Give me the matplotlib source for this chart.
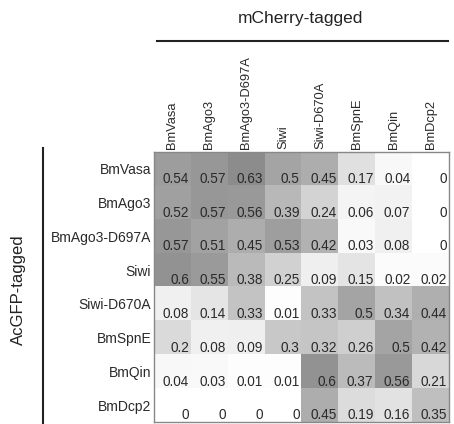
import numpy as np
import matplotlib
matplotlib.use("Agg")
import matplotlib.pyplot as plt
from matplotlib.colors import LinearSegmentedColormap
from matplotlib.lines import Line2D

plt.rcParams["font.family"] = ["Liberation Sans", "DejaVu Sans"]

# mCherry-tagged (columns) vs AcGFP-tagged (rows)
col_labels = ["BmVasa", "BmAgo3", "BmAgo3-D697A", "Siwi", "Siwi-D670A",
              "BmSpnE", "BmQin", "BmDcp2"]
row_labels = ["BmVasa", "BmAgo3", "BmAgo3-D697A", "Siwi", "Siwi-D670A",
              "BmSpnE", "BmQin", "BmDcp2"]

row_vasa = [0.54, 0.57, 0.63, 0.5, 0.45, 0.17, 0.04, 0]
row_ago3 = [0.52, 0.57, 0.56, 0.39, 0.24, 0.06, 0.07, 0]
row_ago3_mut = [0.57, 0.51, 0.45, 0.53, 0.42, 0.03, 0.08, 0]
row_siwi = [0.6, 0.55, 0.38, 0.25, 0.09, 0.15, 0.02, 0.02]
row_siwi_mut = [0.08, 0.14, 0.33, 0.01, 0.33, 0.5, 0.34, 0.44]
row_spne = [0.2, 0.08, 0.09, 0.3, 0.32, 0.26, 0.5, 0.42]
row_qin = [0.04, 0.03, 0.01, 0.01, 0.6, 0.37, 0.56, 0.21]
row_dcp2 = [0, 0, 0, 0, 0.45, 0.19, 0.16, 0.35]

values = np.array([row_vasa, row_ago3, row_ago3_mut, row_siwi,
                   row_siwi_mut, row_spne, row_qin, row_dcp2])

cmap = LinearSegmentedColormap.from_list("wg", ["#ffffff", "#6e6e6e"])

fig = plt.figure(figsize=(4.54, 4.24), dpi=100)
W, H = 454, 424
ax = fig.add_axes([154 / W, 2 / H, 295 / W, 270 / H])
ax.imshow(values, cmap=cmap, vmin=0, vmax=0.8, aspect="auto",
          interpolation="nearest")

txt = "#2a2a2a"
n_r, n_c = values.shape
for i in range(n_r):
    for j in range(n_c):
        v = values[i, j]
        s = "0" if v == 0 else f"{v:g}"
        ax.text(j + 0.45, i + 0.3, s, ha="right", va="center",
                fontsize=9.8, color=txt)

ax.set_xticks(range(n_c))
ax.set_yticks(range(n_r))
ax.set_xticklabels(col_labels, rotation=90, fontsize=9.3, color=txt)
ax.set_yticklabels(row_labels, fontsize=10, color=txt)
ax.xaxis.tick_top()
ax.tick_params(length=0, pad=2)
ax.tick_params(axis="y", pad=2)
for sp in ax.spines.values():
    sp.set_color("#888888")
    sp.set_linewidth(1.0)

# group headers
fig.text(300 / W, 1 - 18 / H, "mCherry-tagged", ha="center", va="center",
         fontsize=12.5, color="#222222")
fig.add_artist(Line2D([157 / W, 448 / W], [1 - 41 / H, 1 - 41 / H],
                      color="#222222", lw=1.5))
fig.text(18 / W, 1 - 290 / H, "AcGFP-tagged", ha="center", va="center",
         rotation=90, fontsize=12, color="#222222")
fig.add_artist(Line2D([43 / W, 43 / W], [1 - 148 / H, 0],
                      color="#222222", lw=1.5))

fig.savefig("out.png", dpi=100)
